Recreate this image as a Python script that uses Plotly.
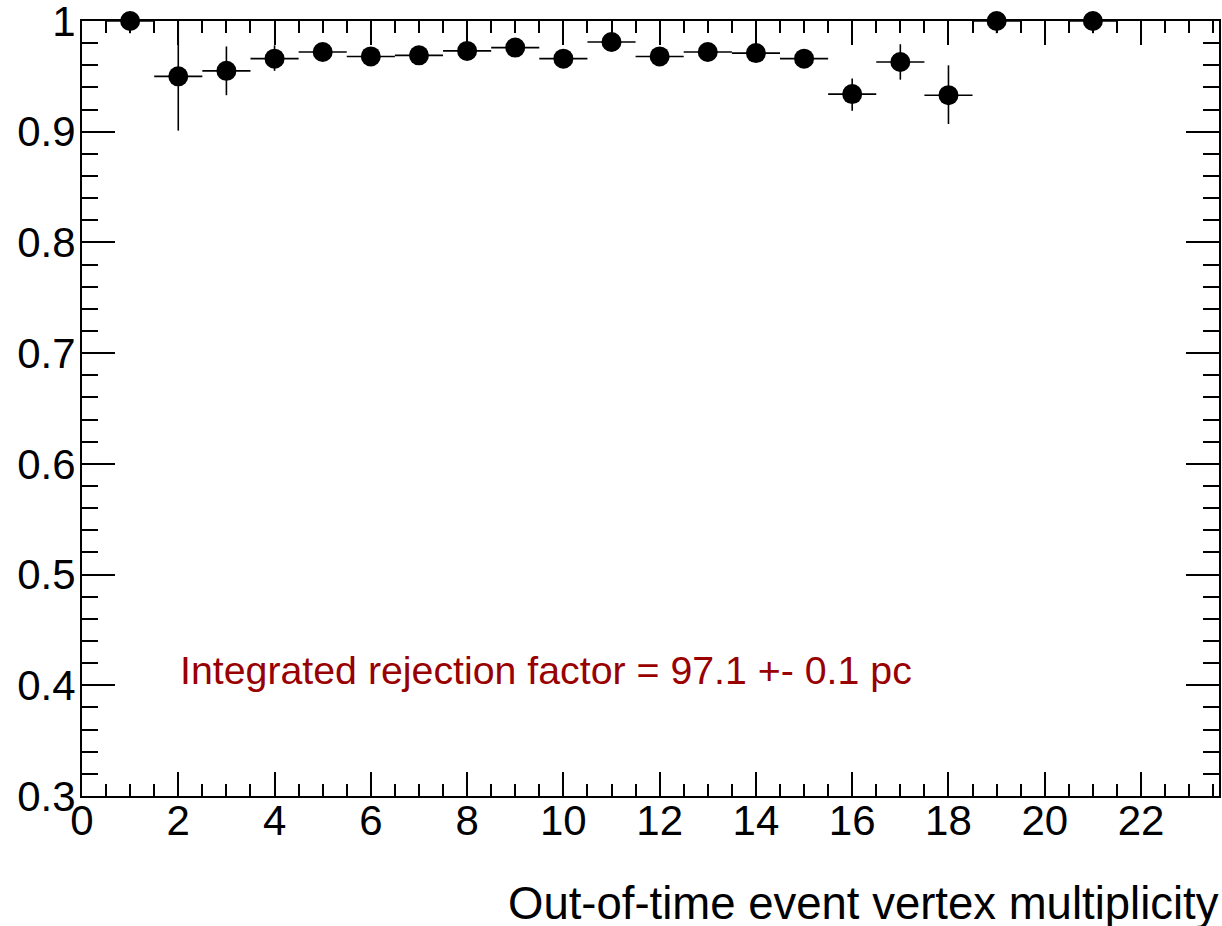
import plotly.graph_objects as go

# Data
multiplicity = [1, 2, 3, 4, 5, 6, 7, 8, 9, 10, 11, 12, 13, 14, 15, 16, 17, 18, 19, 21]
rejection = [1.0, 0.950, 0.955, 0.966, 0.972, 0.968, 0.969, 0.973, 0.976, 0.966,
             0.981, 0.968, 0.972, 0.971, 0.966, 0.934, 0.963, 0.933, 1.0, 1.0]
err_up = [0.0, 0.050, 0.022, 0.012, 0.004, 0.004, 0.004, 0.004, 0.004, 0.004,
          0.004, 0.004, 0.004, 0.004, 0.004, 0.014, 0.016, 0.027, 0.0, 0.0]
err_down = [0.011, 0.049, 0.022, 0.011, 0.004, 0.004, 0.004, 0.004, 0.004, 0.004,
            0.004, 0.004, 0.004, 0.004, 0.004, 0.015, 0.016, 0.026, 0.011, 0.011]
bin_half_width = [0.5] * len(multiplicity)

y_tick_values = [0.3, 0.4, 0.5, 0.6, 0.7, 0.8, 0.9, 1.0]
y_tick_labels = ["0.3", "0.4", "0.5", "0.6", "0.7", "0.8", "0.9", "1"]

x_title = "Out-of-time event vertex multiplicity"
note_text = "Integrated rejection factor = 97.1 +- 0.1 pc"

FONT = "Liberation Sans, Arial, Helvetica, sans-serif"

fig = go.Figure()
fig.add_trace(go.Scatter(
    x=multiplicity, y=rejection, mode="markers",
    marker=dict(color="black", size=20, symbol="circle", line=dict(width=0)),
    error_y=dict(type="data", array=err_up, arrayminus=err_down, symmetric=False,
                 color="black", thickness=1.6, width=0),
    error_x=dict(type="data", array=bin_half_width, color="black", thickness=1.6, width=0),
    cliponaxis=False, showlegend=False,
))

axis_common = dict(
    showline=True, linecolor="black", linewidth=2, mirror="ticks",
    ticks="inside", tickcolor="black", tickwidth=1.6,
    showgrid=False, zeroline=False, automargin=False,
    ticklabeloverflow="allow",
    tickfont=dict(family=FONT, size=42, color="black"),
)

fig.update_xaxes(range=[0, 23.62], dtick=2, tick0=0, ticklen=24,
                 ticklabelstandoff=-13,
                 minor=dict(dtick=0.5, tick0=0, ticklen=12, ticks="inside",
                            tickcolor="black", tickwidth=1.6, showgrid=False),
                 **axis_common)
fig.update_yaxes(range=[0.3, 1.00001], tickmode="array",
                 tickvals=y_tick_values, ticktext=y_tick_labels, ticklen=33,
                 ticklabelstandoff=-4,
                 minor=dict(dtick=0.02, tick0=0.3, ticklen=16, ticks="inside",
                            tickcolor="black", tickwidth=1.6, showgrid=False),
                 **axis_common)

fig.add_annotation(text=x_title, xref="paper", yref="paper", x=1.0, y=-0.103,
                   xanchor="right", yanchor="top", showarrow=False, xshift=2,
                   font=dict(family=FONT, size=45.5, color="black"))
fig.add_annotation(text=note_text, xref="x", yref="y", x=2.0, y=0.4135,
                   xanchor="left", yanchor="middle", showarrow=False, xshift=0,
                   font=dict(family=FONT, size=39.3, color="#990000"))

fig.update_layout(
    template="none",
    width=1222, height=926,
    margin=dict(l=82, r=3, t=21, b=130, pad=0),
    plot_bgcolor="white", paper_bgcolor="white",
    showlegend=False,
)

fig.write_html("out.html", config={"displayModeBar": False},
               post_script="document.body.style.margin='0';")
